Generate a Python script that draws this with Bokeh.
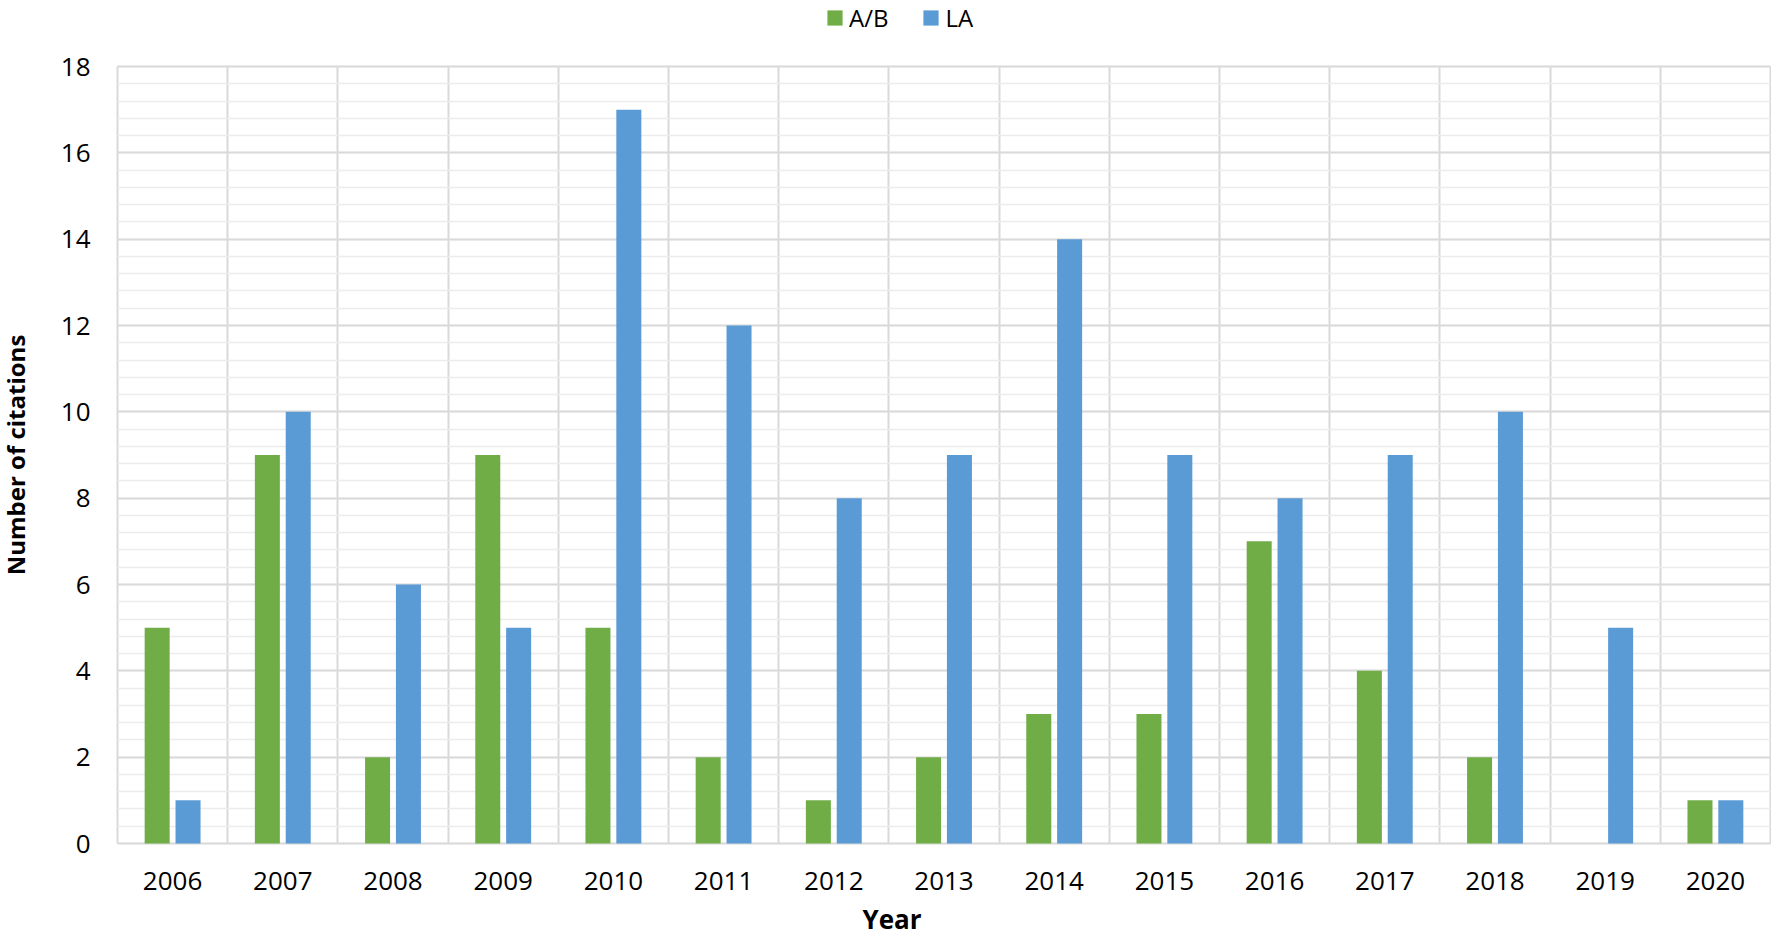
from bokeh.plotting import figure
from bokeh.models import (Range1d, SingleIntervalTicker, FixedTicker, Legend, LegendItem,
                          Label, ColumnDataSource)
from bokeh.transform import dodge
from bokeh.embed import file_html
from bokeh.resources import INLINE

years = ["2006", "2007", "2008", "2009", "2010", "2011", "2012", "2013",
         "2014", "2015", "2016", "2017", "2018", "2019", "2020"]
ab_values = [5, 9, 2, 9, 5, 2, 1, 2, 3, 3, 7, 4, 2, 0, 1]
la_values = [1, 10, 6, 5, 17, 12, 8, 9, 14, 9, 8, 9, 10, 5, 1]
series_names = ["A/B", "LA"]
y_max = 18

GREEN = "#70AD47"
BLUE = "#5B9BD5"
FONT = "Open Sans"

W, H = 1771, 940
PLOT_LEFT, PLOT_RIGHT = 117, 1770        # pixel columns of the category axis ends
PLOT_TOP, PLOT_BOTTOM = 66, 843          # pixel rows of the value axis ends
n = len(years)
px_per_unit = (PLOT_BOTTOM - PLOT_TOP) / y_max
px_per_cat = (PLOT_RIGHT - PLOT_LEFT) / n

centers = [i + 0.5 for i in range(n)]
src = ColumnDataSource(dict(xc=centers, ab=ab_values, la=la_values))

y_lo = -(H - PLOT_BOTTOM) / px_per_unit
y_hi = y_max + PLOT_TOP / px_per_unit
x_lo = -PLOT_LEFT / px_per_cat
x_hi = n + (W - PLOT_RIGHT) / px_per_cat

p = figure(width=W, height=H, output_backend="svg", toolbar_location=None,
           x_range=Range1d(x_lo, x_hi), y_range=Range1d(y_lo, y_hi),
           min_border_left=0, min_border_right=0, min_border_top=0,
           min_border_bottom=0)
p.outline_line_color = None
p.background_fill_color = "white"
p.border_fill_color = "white"

r1 = p.vbar(x=dodge("xc", -0.14, range=p.x_range), top="ab", bottom=0, width=0.227,
            source=src, fill_color=GREEN, line_color=None)
r2 = p.vbar(x=dodge("xc", 0.14, range=p.x_range), top="la", bottom=0, width=0.227,
            source=src, fill_color=BLUE, line_color=None)

# x axis (sits at value 0)
p.xaxis.fixed_location = 0
p.xaxis.bounds = (0, n)
p.xaxis.ticker = FixedTicker(ticks=centers)
p.xaxis.major_label_overrides = {c: y for c, y in zip(centers, years)}
p.xgrid.ticker = FixedTicker(ticks=list(range(n + 1)))
p.xgrid.bounds = (0, n)
p.xgrid.cross_bounds = (0, y_max)
p.xgrid.grid_line_color = "#d9d9d9"
p.xgrid.grid_line_width = 2

# y axis (sits at the first category boundary)
p.yaxis.fixed_location = 0
p.yaxis.bounds = (0, y_max)
p.yaxis.ticker = SingleIntervalTicker(interval=2, num_minor_ticks=5)
p.ygrid.bounds = (0, y_max)
p.ygrid.cross_bounds = (0, n)
p.ygrid.grid_line_color = "#d9d9d9"
p.ygrid.grid_line_width = 2
p.ygrid.minor_grid_line_color = "#ececec"
p.ygrid.minor_grid_line_width = 1.5

for ax in (p.xaxis, p.yaxis):
    ax.axis_line_color = None
    ax.major_tick_line_color = None
    ax.minor_tick_line_color = None
    ax.major_tick_out = 0
    ax.major_tick_in = 0
    ax.minor_tick_out = 0
    ax.major_label_text_font = FONT
    ax.major_label_text_font_size = "26px"
    ax.major_label_text_color = "black"

p.xaxis.major_label_standoff = 28
p.yaxis.major_label_standoff = 27
p.yaxis.axis_label = "Number of citations"
p.yaxis.axis_label_text_font = FONT
p.yaxis.axis_label_text_font_size = "24px"
p.yaxis.axis_label_text_font_style = "bold"
p.yaxis.axis_label_text_color = "black"
p.yaxis.axis_label_standoff = 26

xlabel = Label(text="Year", x=862, y=22, x_units="screen", y_units="screen",
               text_align="left", text_baseline="alphabetic", text_font=FONT,
               text_font_size="26px", text_font_style="bold", text_color="black")
p.add_layout(xlabel)

legend = Legend(items=[LegendItem(label=series_names[0], renderers=[r1]),
                       LegendItem(label=series_names[1], renderers=[r2])],
                orientation="horizontal", location=(825, 906),
                glyph_width=19, glyph_height=19, label_standoff=5, spacing=33,
                padding=0, margin=0, border_line_color=None,
                background_fill_alpha=0,
                label_text_font=FONT, label_text_font_size="24px",
                label_text_color="black")
p.add_layout(legend)

open("out.html", "w").write(file_html(p, INLINE))
